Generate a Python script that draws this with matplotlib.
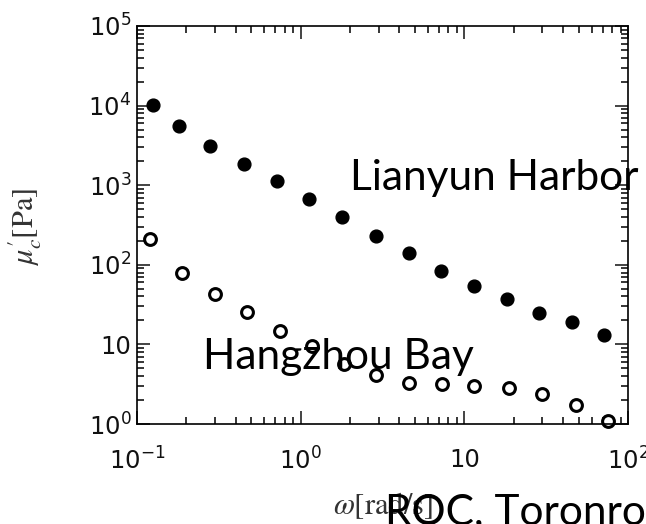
import numpy as np
import matplotlib
matplotlib.use("Agg")
import matplotlib.pyplot as plt
from matplotlib.ticker import LogLocator, NullFormatter

# frequency (rad/s) and mu'_c (Pa)
omega_filled = [0.125, 0.18, 0.279, 0.449, 0.714, 1.13, 1.78, 2.9, 4.56, 7.2,
                11.4, 18.3, 28.6, 45.6, 71.5]
mu_filled = [10200, 5540, 3110, 1850, 1130, 671, 399, 230, 141, 83.6,
             54.2, 37.2, 24.8, 19.1, 13.1]

omega_open = [0.12, 0.188, 0.299, 0.469, 0.745, 1.17, 1.83, 2.9, 4.56, 7.34,
              11.5, 18.8, 29.9, 48.2, 75.5]
mu_open = [211, 78.9, 43, 25.5, 14.7, 9.55, 5.67, 4.13, 3.27, 3.18,
           3.0, 2.83, 2.38, 1.73, 1.09]

xticks = [0.1, 1, 10, 100]
xtick_labels = [r'$\mathregular{10^{-1}}$', r'$\mathregular{10^{0}}$', '10',
                r'$\mathregular{10^{2}}$']
yticks = [1, 10, 100, 1e3, 1e4, 1e5]
ytick_labels = [r'$\mathregular{10^{0}}$', '10', r'$\mathregular{10^{2}}$',
                r'$\mathregular{10^{3}}$', r'$\mathregular{10^{4}}$',
                r'$\mathregular{10^{5}}$']

plt.rcParams['font.family'] = ['DejaVu Sans']

fig = plt.figure(figsize=(6.46, 5.24), dpi=100)
ax = fig.add_axes([137 / 646, 1 - 424 / 524, 491 / 646, 398 / 524])

ax.plot(omega_filled, mu_filled, 'o', color='black', ms=9.2, clip_on=False)
ax.plot(omega_open, mu_open, 'o', mfc='white', mec='black', ms=8.5, mew=2.2,
        clip_on=False)

ax.set_xscale('log')
ax.set_yscale('log')
ax.set_xlim(0.1, 100)
ax.set_ylim(1, 1e5)

ax.set_xticks(xticks, xtick_labels)
ax.set_yticks(yticks, ytick_labels)
ax.xaxis.set_minor_locator(LogLocator(base=10, subs=np.arange(2, 10), numticks=20))
ax.yaxis.set_minor_locator(LogLocator(base=10, subs=np.arange(2, 10), numticks=20))
ax.xaxis.set_minor_formatter(NullFormatter())
ax.yaxis.set_minor_formatter(NullFormatter())

ax.tick_params(which='both', direction='in', top=True, right=True, width=1.1)
ax.tick_params(which='major', length=9.5)
ax.tick_params(which='minor', length=5)
ax.tick_params(axis='x', which='major', pad=17, labelsize=17.5, colors='#111111')
ax.tick_params(axis='y', which='major', pad=4, labelsize=17.5, colors='#111111')
for s in ax.spines.values():
    s.set_linewidth(1.2)

ax.set_xlabel(r"$\omega[\mathrm{rad/s}]$", fontsize=22, math_fontfamily='stix',
              color='#333333')
ax.xaxis.set_label_coords(0.501, -0.165)
ax.set_ylabel(r"$\mu_c'[\mathrm{Pa}]$", fontsize=22, math_fontfamily='stix',
              color='#333333')
ax.yaxis.set_label_coords(-0.19, 0.495)

# overlaid annotations
fig.text(350 / 646, 1 - 190 / 524, 'Lianyun Harbor', fontsize=30.5,
         family='Lato', va='baseline')
fig.text(203 / 646, 1 - 369 / 524, 'Hangzhou Bay', fontsize=30.5,
         family='Lato', va='baseline')
fig.text(385 / 646, 1 - 524 / 524, 'ROC, Toronro', fontsize=30.5,
         family='Lato', va='baseline')

fig.savefig('out.png', dpi=100)
